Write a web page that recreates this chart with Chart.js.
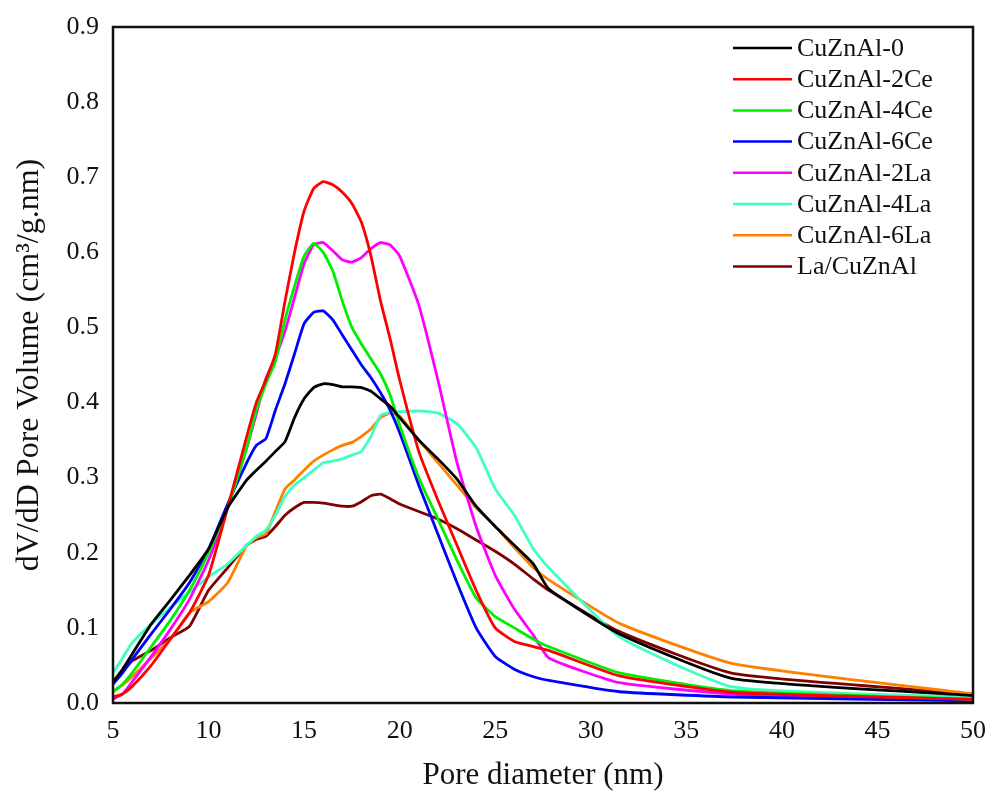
<!DOCTYPE html>
<html>
<head>
<meta charset="utf-8">
<script src="https://cdn.jsdelivr.net/npm/chart.js@4.4.0/dist/chart.umd.min.js"></script>
<style>
  html, body { margin: 0; padding: 0; background: #fff; }
  #wrap { width: 989px; height: 796px; position: relative; }
</style>
</head>
<body>
<div id="wrap"><canvas id="psd"></canvas></div>
<script>
/* ---- Pore size distribution data (BJH) ---- */
const poreDiameter = [5, 5.5, 6, 7, 8, 9, 10, 11, 12, 12.5, 13, 13.5, 14, 14.5, 15, 15.5, 16, 16.5,
  17, 17.5, 18, 18.5, 19, 19.5, 20, 21, 22, 23, 24, 25, 26, 27, 27.8, 31.5, 37.5, 50];

const cuznal0 = [0.028, 0.045, 0.065, 0.105, 0.137, 0.17, 0.205, 0.26, 0.297, 0.31, 0.322, 0.335, 0.348, 0.38,
  0.405, 0.42, 0.425, 0.424, 0.421, 0.421, 0.42, 0.415, 0.405, 0.395, 0.38, 0.35, 0.325, 0.298, 0.262,
  0.235, 0.21, 0.185, 0.152, 0.092, 0.032, 0.01];
const cuznal2Ce = [0.008, 0.012, 0.022, 0.05, 0.085, 0.12, 0.17, 0.26, 0.355, 0.40, 0.43, 0.465, 0.535, 0.60,
  0.655, 0.685, 0.694, 0.69, 0.68, 0.665, 0.64, 0.595, 0.535, 0.485, 0.43, 0.335, 0.27, 0.21, 0.15,
  0.10, 0.082, 0.075, 0.07, 0.036, 0.014, 0.005];
const cuznal4Ce = [0.015, 0.025, 0.04, 0.075, 0.11, 0.15, 0.2, 0.26, 0.34, 0.39, 0.425, 0.455, 0.51, 0.555,
  0.595, 0.612, 0.60, 0.575, 0.535, 0.50, 0.478, 0.458, 0.438, 0.41, 0.37, 0.30, 0.245, 0.19, 0.14,
  0.115, 0.10, 0.085, 0.075, 0.04, 0.016, 0.005];
const cuznal6Ce = [0.025, 0.04, 0.058, 0.092, 0.125, 0.16, 0.205, 0.265, 0.32, 0.343, 0.352, 0.39, 0.425, 0.465,
  0.505, 0.52, 0.522, 0.51, 0.49, 0.47, 0.45, 0.433, 0.413, 0.39, 0.36, 0.29, 0.225, 0.16, 0.10,
  0.062, 0.045, 0.035, 0.03, 0.015, 0.008, 0.003];
const cuznal2La = [0.005, 0.012, 0.028, 0.062, 0.098, 0.138, 0.19, 0.26, 0.34, 0.385, 0.432, 0.46, 0.495, 0.54,
  0.585, 0.61, 0.613, 0.602, 0.59, 0.587, 0.593, 0.605, 0.613, 0.61, 0.595, 0.53, 0.43, 0.32, 0.235,
  0.17, 0.125, 0.09, 0.06, 0.027, 0.012, 0.004];
const cuznal4La = [0.04, 0.06, 0.08, 0.105, 0.127, 0.148, 0.168, 0.185, 0.21, 0.222, 0.23, 0.25, 0.275, 0.29,
  0.30, 0.31, 0.32, 0.322, 0.325, 0.33, 0.335, 0.355, 0.383, 0.387, 0.388, 0.389, 0.386, 0.372, 0.34,
  0.285, 0.25, 0.205, 0.18, 0.088, 0.021, 0.008];
const cuznal6La = [0.015, 0.024, 0.035, 0.06, 0.085, 0.12, 0.135, 0.16, 0.21, 0.22, 0.225, 0.255, 0.285, 0.297,
  0.31, 0.322, 0.33, 0.337, 0.343, 0.347, 0.355, 0.365, 0.38, 0.386, 0.382, 0.35, 0.32, 0.29, 0.26,
  0.235, 0.207, 0.18, 0.164, 0.106, 0.052, 0.012];
const laCuznal = [0.027, 0.042, 0.056, 0.07, 0.087, 0.102, 0.15, 0.18, 0.21, 0.218, 0.222, 0.235, 0.25, 0.26,
  0.267, 0.267, 0.266, 0.264, 0.262, 0.262, 0.268, 0.276, 0.278, 0.272, 0.265, 0.255, 0.245, 0.232, 0.217,
  0.202, 0.185, 0.165, 0.15, 0.095, 0.039, 0.012];

const seriesNames = ['CuZnAl-0', 'CuZnAl-2Ce', 'CuZnAl-4Ce', 'CuZnAl-6Ce', 'CuZnAl-2La', 'CuZnAl-4La', 'CuZnAl-6La', 'La/CuZnAl'];
const seriesValues = [cuznal0, cuznal2Ce, cuznal4Ce, cuznal6Ce, cuznal2La, cuznal4La, cuznal6La, laCuznal];
const seriesColors = ['#000000', '#ff0000', '#00ee00', '#0000ff', '#ff00ff', '#40ffc0', '#ff8000', '#7f0000'];

const xTicks = [5, 10, 15, 20, 25, 30, 35, 40, 45, 50];
const yTicks = [0, 0.1, 0.2, 0.3, 0.4, 0.5, 0.6, 0.7, 0.8, 0.9];

const FONT = "'Liberation Serif', 'Times New Roman', serif";

// Frame round the plot area (all four sides)
const framePlugin = {
  id: 'frame',
  afterDatasetsDraw(chart) {
    const { ctx, chartArea: a } = chart;
    ctx.save();
    ctx.strokeStyle = '#111';
    ctx.lineWidth = 2.5;
    ctx.strokeRect(a.left, a.top, a.right - a.left, a.bottom - a.top);
    ctx.restore();
  }
};

// Legend drawn inside the plot, top right, no box
const innerLegend = {
  id: 'innerLegend',
  afterDraw(chart) {
    const { ctx, chartArea: a } = chart;
    const x0 = a.right - 240, y0 = a.top + 21, step = 31.2;
    ctx.save();
    ctx.font = '26px ' + FONT;
    ctx.textBaseline = 'middle';
    chart.data.datasets.forEach((ds, i) => {
      const y = y0 + i * step;
      ctx.strokeStyle = ds.borderColor;
      ctx.lineWidth = 2.5;
      ctx.beginPath();
      ctx.moveTo(x0, y);
      ctx.lineTo(x0 + 59, y);
      ctx.stroke();
      ctx.fillStyle = '#111';
      ctx.fillText(ds.label, x0 + 64, y + 1);
    });
    ctx.restore();
  }
};

const datasets = seriesNames.map((name, i) => ({
  label: name,
  data: poreDiameter.map((d, j) => ({ x: d, y: seriesValues[i][j] })),
  borderColor: seriesColors[i],
  backgroundColor: seriesColors[i],
  borderWidth: 2.8,
  pointRadius: 0,
  fill: false,
  tension: 0.15
}));

new Chart(document.getElementById('psd'), {
  type: 'line',
  data: { datasets },
  options: {
    responsive: true,
    maintainAspectRatio: false,
    animation: false,
    layout: { padding: { top: 27, right: 16, left: 0, bottom: 0 } },
    plugins: { legend: { display: false }, tooltip: { enabled: false } },
    scales: {
      x: {
        type: 'linear',
        min: 5, max: 50,
        afterBuildTicks: s => { s.ticks = xTicks.map(v => ({ value: v })); },
        afterFit: s => { s.height = 93; s.paddingLeft = 0; s.paddingRight = 0; },
        grid: { display: false, drawTicks: false },
        border: { display: false },
        ticks: { color: '#111', font: { family: FONT, size: 26 }, padding: 13, maxRotation: 0 },
        title: { display: true, text: 'Pore diameter (nm)', color: '#111',
                 font: { family: FONT, size: 31 }, padding: { top: 2, bottom: 2 } }
      },
      y: {
        min: 0, max: 0.9,
        afterBuildTicks: s => { s.ticks = yTicks.map(v => ({ value: v })); },
        afterFit: s => { s.width = 113; s.paddingTop = 0; s.paddingBottom = 0; },
        grid: { display: false, drawTicks: false },
        border: { display: false },
        ticks: { color: '#111', font: { family: FONT, size: 26 }, padding: 14,
                 callback: v => Number(v).toFixed(1) },
        title: { display: true, text: 'dV/dD Pore Volume (cm³/g.nm)', color: '#111',
                 font: { family: FONT, size: 32 }, padding: { top: 10, bottom: 4 } }
      }
    }
  },
  plugins: [framePlugin, innerLegend]
});
</script>
</body>
</html>
